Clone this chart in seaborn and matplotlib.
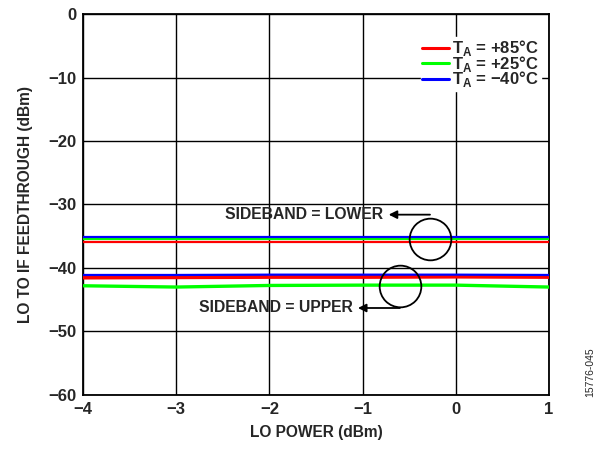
import matplotlib
matplotlib.use("Agg")
import matplotlib.pyplot as plt
import seaborn as sns
import pandas as pd
from matplotlib.lines import Line2D

# data
lo_power = [-4, -3, -2, -1, 0, 1]
temps = ["+85", "+25", "\u221240"]
colors = {"+85": "#ff0000", "+25": "#00ff00", "\u221240": "#0000ff"}

lower_85 = [-35.9, -35.9, -35.9, -35.9, -35.9, -35.9]
lower_25 = [-35.5, -35.5, -35.5, -35.5, -35.5, -35.5]
lower_m40 = [-35.1, -35.1, -35.1, -35.1, -35.1, -35.1]
upper_85 = [-41.5, -41.45, -41.4, -41.4, -41.35, -41.4]
upper_25 = [-42.8, -43.0, -42.75, -42.7, -42.7, -43.0]
upper_m40 = [-41.1, -41.1, -41.05, -41.05, -41.05, -41.1]

rows = []
for side, series in [("lower", [lower_85, lower_25, lower_m40]),
                     ("upper", [upper_85, upper_25, upper_m40])]:
    for t, vals in zip(temps, series):
        for x, y in zip(lo_power, vals):
            rows.append({"lo": x, "ft": y, "temp": t, "side": side})
df = pd.DataFrame(rows)

sns.set_style("white")
plt.rcParams["font.family"] = ["Liberation Sans", "DejaVu Sans"]
plt.rcParams["font.weight"] = "bold"
plt.rcParams["mathtext.fontset"] = "custom"
plt.rcParams["mathtext.rm"] = "Liberation Sans:bold"
plt.rcParams["mathtext.bf"] = "Liberation Sans:bold"

fig = plt.figure(figsize=(5.99, 4.49), dpi=100)
ax = fig.add_axes([0.1386, 0.1203, 0.9165 - 0.1386, 0.9688 - 0.1203])

# draw upper group thicker, blue on top
order = ["+25", "+85", "\u221240"]
for side, lw in [("lower", 1.6), ("upper", 2.4)]:
    for t in order:
        sub = df[(df.side == side) & (df.temp == t)]
        w = lw
        if side == "upper" and t == "+85":
            w = 2.9
        if t == "\u221240":
            w = 1.6
        sns.lineplot(data=sub, x="lo", y="ft", color=colors[t], lw=w,
                     ax=ax, legend=False, zorder=3)

ax.set_xlim(-4, 1)
ax.set_ylim(-60, 0)
ax.set_xticks(range(-4, 2))
ax.set_yticks(range(-60, 1, 10))
ax.set_xticklabels(["\u22124", "\u22123", "\u22122", "\u22121", "0", "1"])
ax.set_yticklabels(["\u221260", "\u221250", "\u221240", "\u221230", "\u221220", "\u221210", "0"])
ax.grid(True, color="black", lw=1.0)
ax.tick_params(length=0, labelsize=12, pad=5)
for lab in ax.get_xticklabels() + ax.get_yticklabels():
    lab.set_fontweight("bold")
for s in ax.spines.values():
    s.set_color("black")
    s.set_linewidth(1.3)

ax.set_xlabel("LO POWER (dBm)", fontsize=11.2, fontweight="bold", labelpad=6)
ax.set_ylabel("LO TO IF FEEDTHROUGH (dBm)", fontsize=11.2, fontweight="bold", labelpad=11)

# circles and arrows
ax.plot([-0.277], [-35.4], marker="o", ms=30, mfc="none", mec="black", mew=1.3, zorder=4)
ax.plot([-0.6], [-42.8], marker="o", ms=30, mfc="none", mec="black", mew=1.3, zorder=4)
ax.annotate("", xy=(-0.72, -31.6), xytext=(-0.277, -31.6),
            arrowprops=dict(arrowstyle="-|>", color="black", lw=1.3, mutation_scale=12,
                            shrinkA=0, shrinkB=0))
ax.annotate("", xy=(-1.05, -46.3), xytext=(-0.6, -46.3),
            arrowprops=dict(arrowstyle="-|>", color="black", lw=1.3, mutation_scale=12,
                            shrinkA=0, shrinkB=0))
ax.text(-0.78, -31.6, "SIDEBAND = LOWER", ha="right", va="center",
        fontsize=11.3, fontweight="bold", zorder=5)
ax.text(-1.1, -46.3, "SIDEBAND = UPPER", ha="right", va="center",
        fontsize=11.3, fontweight="bold", zorder=5)

# legend
handles = [Line2D([0], [0], color=colors[t], lw=2.2) for t in temps]
labels = ["T$_\\mathbf{A}$ = +85\u00b0C", "T$_\\mathbf{A}$ = +25\u00b0C", "T$_\\mathbf{A}$ = \u221240\u00b0C"]
leg = ax.legend(handles, labels, loc="upper right", bbox_to_anchor=(1.0, 0.962),
                frameon=True, fancybox=False, edgecolor="white", framealpha=1,
                handlelength=1.6, handletextpad=0.2, labelspacing=-0.27,
                borderpad=0.1, prop={"weight": "bold", "size": 12})
leg.set_zorder(6)

fig.text(0.985, 0.115, "15776-045", rotation=90, fontsize=7.5, fontweight="normal",
         ha="center", va="bottom")

fig.savefig("out.png", dpi=100)
